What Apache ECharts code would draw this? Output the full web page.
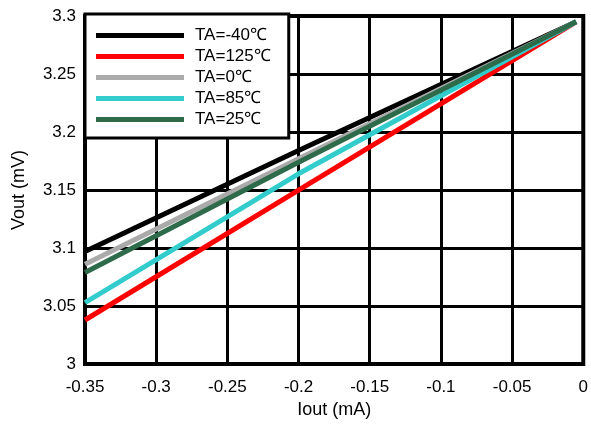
<!DOCTYPE html>
<html>
<head>
<meta charset="utf-8">
<script src="https://cdn.jsdelivr.net/npm/echarts@6/dist/echarts.min.js"></script>
<style>
html,body{margin:0;padding:0;background:#fff;}
#chart{width:591px;height:424px;}
</style>
</head>
<body>
<div id="chart"></div>
<script>
// Data
var seriesNames = ['TA=-40℃', 'TA=125℃', 'TA=0℃', 'TA=85℃', 'TA=25℃'];
var xValues = [-0.35, -0.2, -0.005];
var vM40 = [3.097, 3.184, 3.295];
var v125 = [3.038, 3.150, 3.295];
var v0 = [3.086, 3.177, 3.295];
var v85 = [3.053, 3.164, 3.295];
var v25 = [3.079, 3.174, 3.295];
var xTicks = [-0.35, -0.3, -0.25, -0.2, -0.15, -0.1, -0.05, 0];
var yTicks = [3, 3.05, 3.1, 3.15, 3.2, 3.25, 3.3];

var colors = ['#000000', '#ff0000', '#aaaaaa', '#33cccc', '#2d6b4b'];
var allValues = [vM40, v125, v0, v85, v25];

function pair(vals) {
  return xValues.map(function (x, i) { return [x, vals[i]]; });
}

var font = 'Liberation Sans, Arial, sans-serif';
var chart = echarts.init(document.getElementById('chart'), null, {renderer: 'canvas'});
chart.setOption({
  animation: false,
  backgroundColor: '#fff',
  grid: {
    left: 85, right: 6, top: 16, bottom: 57,
    show: true, borderColor: '#000', borderWidth: 4, backgroundColor: '#fff'
  },
  legend: {
    orient: 'vertical',
    left: 85, top: 14,
    data: seriesNames,
    icon: 'rect',
    itemWidth: 88, itemHeight: 5, itemGap: 4,
    padding: [13, 18, 10, 11],
    backgroundColor: '#fff',
    borderColor: '#000', borderWidth: 3, borderRadius: 0,
    textStyle: {fontFamily: font, fontSize: 17, color: '#000', lineHeight: 17, padding: [0, 0, 0, 6]}
  },
  xAxis: {
    type: 'value', min: xTicks[0], max: xTicks[xTicks.length - 1], interval: 0.05,
    name: 'Iout (mA)', nameLocation: 'middle', nameGap: 35,
    nameTextStyle: {fontFamily: font, fontSize: 18, color: '#000'},
    axisLine: {show: false}, axisTick: {show: false},
    axisLabel: {fontFamily: font, fontSize: 17, color: '#000', margin: 15,
      formatter: function (v) { return String(Math.round(v * 100) / 100); }},
    splitLine: {show: true, lineStyle: {color: '#000', width: 3}}
  },
  yAxis: {
    type: 'value', min: yTicks[0], max: yTicks[yTicks.length - 1], interval: 0.05,
    name: 'Vout (mV)', nameLocation: 'middle', nameGap: 57, nameRotate: 90,
    nameTextStyle: {fontFamily: font, fontSize: 18, color: '#000'},
    axisLine: {show: false}, axisTick: {show: false},
    axisLabel: {fontFamily: font, fontSize: 17, color: '#000', margin: 9,
      formatter: function (v) { return String(Math.round(v * 100) / 100); }},
    splitLine: {show: true, lineStyle: {color: '#000', width: 3}}
  },
  series: seriesNames.map(function (n, i) {
    return {
      name: n, type: 'line', data: pair(allValues[i]),
      showSymbol: false, symbol: 'none',
      color: colors[i],
      lineStyle: {color: colors[i], width: 5},
      itemStyle: {color: colors[i]}
    };
  })
});
</script>
</body>
</html>
